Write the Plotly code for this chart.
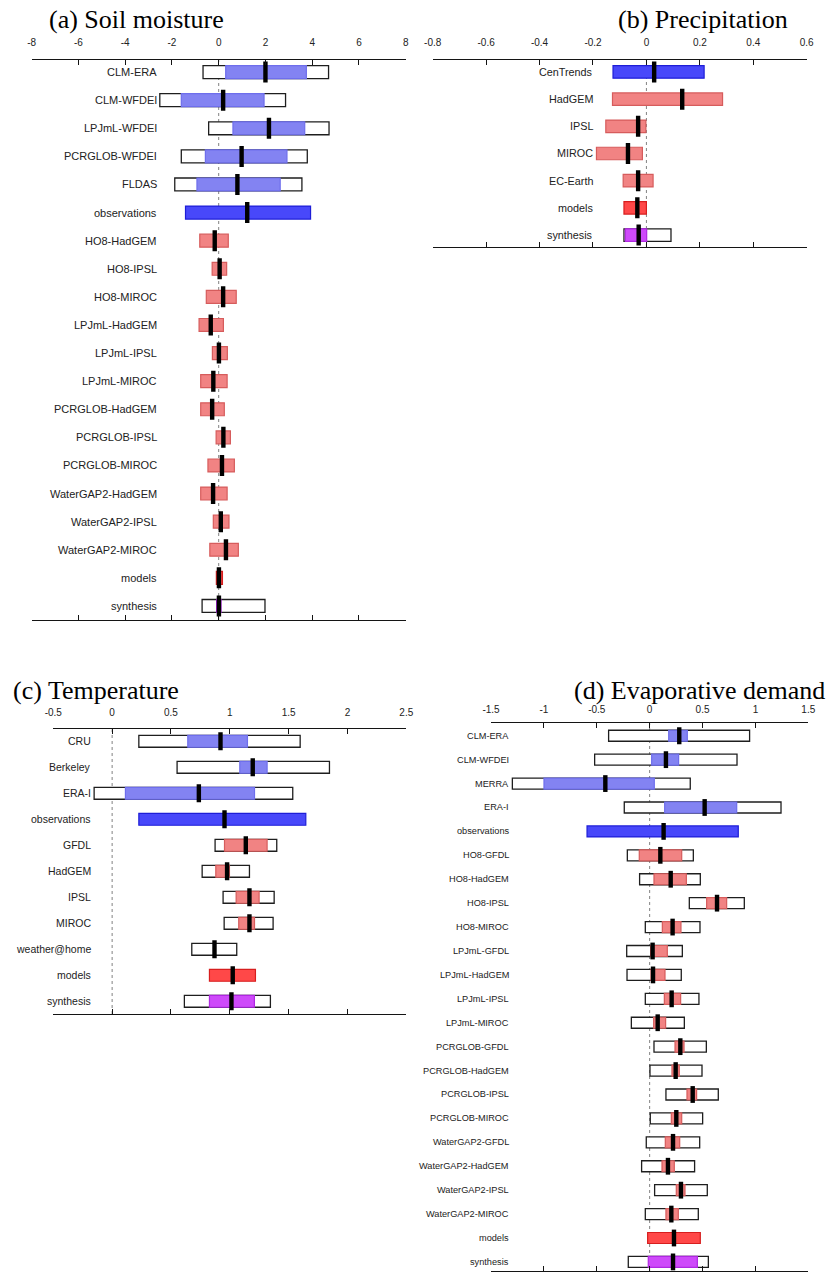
import plotly.graph_objects as go

# ---------------- (a) Soil moisture ----------------
names_a = ["CLM-ERA", "CLM-WFDEI", "LPJmL-WFDEI", "PCRGLOB-WFDEI", "FLDAS", "observations",
           "HO8-HadGEM", "HO8-IPSL", "HO8-MIROC", "LPJmL-HadGEM", "LPJmL-IPSL", "LPJmL-MIROC",
           "PCRGLOB-HadGEM", "PCRGLOB-IPSL", "PCRGLOB-MIROC", "WaterGAP2-HadGEM", "WaterGAP2-IPSL",
           "WaterGAP2-MIROC", "models", "synthesis"]
kind_a = ["obs"] * 5 + ["obs_all"] + ["model"] * 12 + ["model_all", "synthesis"]
outer_lo_a = [-0.67, -2.52, -0.43, -1.60, -1.88, None] + [None] * 12 + [None, -0.71]
outer_hi_a = [4.70, 2.86, 4.72, 3.79, 3.56, None] + [None] * 12 + [None, 1.98]
inner_lo_a = [0.30, -1.60, 0.61, -0.57, -0.93, -1.42, -0.81, -0.28, -0.53, -0.84, -0.27, -0.77,
              -0.77, -0.11, -0.46, -0.77, -0.23, -0.38, -0.10, -0.09]
inner_hi_a = [3.75, 1.94, 3.68, 2.92, 2.63, 3.93, 0.41, 0.34, 0.75, 0.20, 0.37, 0.36,
              0.24, 0.50, 0.67, 0.36, 0.44, 0.84, 0.16, 0.10]
best_a = [2.00, 0.19, 2.15, 0.98, 0.80, 1.22, -0.17, 0.04, 0.19, -0.34, 0.01, -0.23,
          -0.28, 0.20, 0.14, -0.24, 0.09, 0.31, 0.01, 0.01]
ticks_a = [-8, -6, -4, -2, 0, 2, 4, 6, 8]
ticktext_a = ["-8", "-6", "-4", "-2", "0", "2", "4", "6", "8"]

# ---------------- (b) Precipitation ----------------
names_b = ["CenTrends", "HadGEM", "IPSL", "MIROC", "EC-Earth", "models", "synthesis"]
kind_b = ["obs_all", "model", "model", "model", "model", "model_all", "synthesis"]
outer_lo_b = [None, None, None, None, None, None, -0.084]
outer_hi_b = [None, None, None, None, None, None, 0.092]
inner_lo_b = [-0.125, -0.127, -0.152, -0.187, -0.087, -0.084, -0.079]
inner_hi_b = [0.216, 0.285, -0.002, -0.015, 0.025, 0.000, 0.001]
best_b = [0.029, 0.134, -0.031, -0.069, -0.031, -0.034, -0.029]
ticks_b = [-0.8, -0.6, -0.4, -0.2, 0, 0.2, 0.4, 0.6]
ticktext_b = ["-0.8", "-0.6", "-0.4", "-0.2", "0", "0.2", "0.4", "0.6"]

# ---------------- (c) Temperature ----------------
names_c = ["CRU", "Berkeley", "ERA-I", "observations", "GFDL", "HadGEM", "IPSL", "MIROC",
           "weather@home", "models", "synthesis"]
kind_c = ["obs", "obs", "obs", "obs_all", "model", "model", "model", "model", "model",
          "model_all", "synthesis"]
outer_lo_c = [0.227, 0.552, -0.153, None, 0.875, 0.765, 0.943, 0.952, 0.677, None, 0.614]
outer_hi_c = [1.598, 1.847, 1.535, None, 1.399, 1.167, 1.377, 1.368, 1.059, None, 1.345]
inner_lo_c = [0.643, 1.085, 0.113, 0.227, 0.955, 0.881, 1.054, 1.076, None, 0.827, 0.827]
inner_hi_c = [1.150, 1.317, 1.210, 1.646, 1.317, 0.997, 1.249, 1.210, None, 1.218, 1.209]
best_c = [0.921, 1.195, 0.737, 0.955, 1.136, 0.977, 1.167, 1.167, 0.870, 1.025, 1.014]
ticks_c = [-0.5, 0, 0.5, 1, 1.5, 2, 2.5]
ticktext_c = ["-0.5", "0", "0.5", "1", "1.5", "2", "2.5"]

# ---------------- (d) Evaporative demand ----------------
names_d = ["CLM-ERA", "CLM-WFDEI", "MERRA", "ERA-I", "observations", "HO8-GFDL", "HO8-HadGEM",
           "HO8-IPSL", "HO8-MIROC", "LPJmL-GFDL", "LPJmL-HadGEM", "LPJmL-IPSL", "LPJmL-MIROC",
           "PCRGLOB-GFDL", "PCRGLOB-HadGEM", "PCRGLOB-IPSL", "PCRGLOB-MIROC", "WaterGAP2-GFDL",
           "WaterGAP2-HadGEM", "WaterGAP2-IPSL", "WaterGAP2-MIROC", "models", "synthesis"]
kind_d = ["obs"] * 4 + ["obs_all"] + ["model"] * 16 + ["model_all", "synthesis"]
outer_lo_d = [-0.388, -0.520, -1.298, -0.240, None, -0.211, -0.095, 0.375, -0.041, -0.217,
              -0.214, -0.041, -0.173, 0.041, 0.003, 0.154, 0.006, -0.032, -0.076, 0.047,
              -0.041, None, -0.202]
outer_hi_d = [0.945, 0.826, 0.384, 1.242, None, 0.413, 0.479, 0.895, 0.476, 0.309,
              0.299, 0.466, 0.328, 0.536, 0.495, 0.649, 0.501, 0.473, 0.425, 0.545,
              0.460, None, 0.555]
inner_lo_d = [0.180, 0.019, -0.999, 0.142, -0.592, -0.098, 0.041, 0.539, 0.120, 0.009,
              0.013, 0.139, 0.038, 0.240, 0.211, 0.353, 0.205, 0.148, 0.117, 0.252,
              0.154, -0.019, -0.013]
inner_hi_d = [0.356, 0.274, 0.044, 0.823, 0.838, 0.303, 0.347, 0.728, 0.296, 0.167,
              0.145, 0.293, 0.151, 0.325, 0.280, 0.444, 0.303, 0.284, 0.233, 0.334,
              0.271, 0.479, 0.451]
best_d = [0.280, 0.154, -0.419, 0.520, 0.132, 0.101, 0.199, 0.637, 0.217, 0.028,
          0.032, 0.208, 0.076, 0.290, 0.246, 0.407, 0.252, 0.221, 0.173, 0.296,
          0.205, 0.230, 0.221]
ticks_d = [-1.5, -1, -0.5, 0, 0.5, 1, 1.5]
ticktext_d = ["-1.5", "-1", "-0.5", "0", "0.5", "1", "1.5"]

# colours for each kind of row
FILL = {
    "obs": "rgb(131,131,242)",
    "obs_all": "rgb(72,72,250)",
    "model": "rgb(241,131,131)",
    "model_all": "rgb(255,72,72)",
    "synthesis": "rgb(206,74,250)",
}
EDGE = {
    "obs": "rgb(110,110,236)",
    "obs_all": "rgb(30,30,215)",
    "model": "rgb(214,92,92)",
    "model_all": "rgb(215,30,30)",
    "synthesis": "rgb(175,40,225)",
}
KIND_ORDER = ["obs", "obs_all", "model", "model_all", "synthesis"]

W, H = 828, 1274

panels = [
    dict(names=names_a, kind=kind_a, olo=outer_lo_a, ohi=outer_hi_a, ilo=inner_lo_a,
         ihi=inner_hi_a, best=best_a, ticks=ticks_a, ticktext=ticktext_a, xr=[-8, 8],
         xpx=(31.7, 405.7), ypx=(60, 620), pad=(0.43, 0.50), lab=11, mark=15, standoff=9),
    dict(names=names_b, kind=kind_b, olo=outer_lo_b, ohi=outer_hi_b, ilo=inner_lo_b,
         ihi=inner_hi_b, best=best_b, ticks=ticks_b, ticktext=ticktext_b, xr=[-0.8, 0.6],
         xpx=(432.7, 806.7), ypx=(60, 247), pad=(0.44, 0.44), lab=10.8, mark=15, standoff=9),
    dict(names=names_c, kind=kind_c, olo=outer_lo_c, ohi=outer_hi_c, ilo=inner_lo_c,
         ihi=inner_hi_c, best=best_c, ticks=ticks_c, ticktext=ticktext_c, xr=[-0.5, 2.5],
         xpx=(53.3, 406.3), ypx=(729.3, 1014), pad=(0.46, 0.49), lab=10.5, mark=13, standoff=8),
    dict(names=names_d, kind=kind_d, olo=outer_lo_d, ohi=outer_hi_d, ilo=inner_lo_d,
         ihi=inner_hi_d, best=best_d, ticks=ticks_d, ticktext=ticktext_d, xr=[-1.5, 1.5],
         xpx=(491, 808.3), ypx=(723.3, 1271), pad=(0.52, 0.38), lab=9.2, mark=12, standoff=5),
]

fig = go.Figure()
layout = {}
shapes = []
annotations = []

for i, p in enumerate(panels):
    sfx = "" if i == 0 else str(i + 1)
    xa, ya = "x" + sfx, "y" + sfx
    names = p["names"]
    n = len(names)

    # outer (white) ranges
    rows = [k for k in range(n) if p["olo"][k] is not None]
    fig.add_trace(go.Bar(
        orientation="h", y=[names[k] for k in rows],
        base=[p["olo"][k] for k in rows],
        x=[p["ohi"][k] - p["olo"][k] for k in rows],
        width=0.46, marker=dict(color="white", line=dict(color="rgb(30,30,30)", width=1.3)),
        xaxis=xa, yaxis=ya, showlegend=False, hoverinfo="skip"))

    # coloured ranges
    for kind in KIND_ORDER:
        rows = [k for k in range(n) if p["ilo"][k] is not None and p["kind"][k] == kind]
        if not rows:
            continue
        fig.add_trace(go.Bar(
            orientation="h", y=[names[k] for k in rows],
            base=[p["ilo"][k] for k in rows],
            x=[p["ihi"][k] - p["ilo"][k] for k in rows],
            width=0.46, marker=dict(color=FILL[kind], line=dict(color=EDGE[kind], width=1.2)),
            xaxis=xa, yaxis=ya, showlegend=False, hoverinfo="skip"))

    # best estimates
    fig.add_trace(go.Scatter(
        x=p["best"], y=names, mode="markers",
        marker=dict(symbol="line-ns", size=p["mark"], color="black",
                    line=dict(color="black", width=4.4)),
        xaxis=xa, yaxis=ya, showlegend=False, hoverinfo="skip"))

    x0, x1 = p["xpx"]
    yt, yb = p["ypx"]
    layout["xaxis" + sfx] = dict(
        domain=[x0 / W, x1 / W], range=p["xr"], side="top", anchor=ya,
        showline=True, linecolor="rgb(20,20,20)", linewidth=1.3, mirror="ticks",
        ticks="inside", ticklen=5, tickwidth=1.3, tickcolor="rgb(20,20,20)",
        tickmode="array", tickvals=p["ticks"], ticktext=p["ticktext"],
        ticklabelstandoff=p["standoff"], automargin=False,
        tickfont=dict(family="Liberation Sans", size=10, color="#222"),
        showgrid=False, zeroline=False, fixedrange=True)
    pt, pb = p["pad"]
    layout["yaxis" + sfx] = dict(
        domain=[1 - yb / H, 1 - yt / H], anchor=xa, type="category",
        categoryorder="array", categoryarray=names, range=[n - 1 + pb, -pt],
        showticklabels=False, showgrid=False, zeroline=False, showline=False,
        ticks="", fixedrange=True, automargin=False)

    # dotted zero reference
    shapes.append(dict(type="line", xref=xa, yref=ya + " domain", x0=0, x1=0, y0=0, y1=1,
                       line=dict(color="rgb(130,130,130)", width=1, dash="dot"), layer="below"))

    # row labels sit just left of the lowest range in the panel
    lows = [v for v in p["olo"] + p["ilo"] if v is not None]
    lab_x = min(lows)
    for nm in names:
        annotations.append(dict(
            xref=xa, yref=ya, x=lab_x, y=nm, text=nm, showarrow=False,
            xanchor="right", yanchor="middle", xshift=-1,
            font=dict(family="Liberation Sans", size=p["lab"], color="#222")))

titles = [
    ("(a) Soil moisture", 47, 19, "left"),
    ("(b) Precipitation", 790, 20, "right"),
    ("(c) Temperature", 11, 690, "left"),
    ("(d) Evaporative demand", 827, 691, "right"),
]
for txt, xp, yp, anc in titles:
    annotations.append(dict(
        xref="paper", yref="paper", x=xp / W, y=1 - yp / H, text=txt, showarrow=False,
        xanchor=anc, yanchor="middle",
        font=dict(family="Liberation Serif", size=26, color="black")))

fig.update_layout(
    width=W, height=H, autosize=False,
    margin=dict(l=0, r=0, t=0, b=0, pad=0, autoexpand=False),
    paper_bgcolor="white", plot_bgcolor="white",
    barmode="overlay", showlegend=False,
    shapes=shapes, annotations=annotations, **layout)

fig.write_html("out.html")
